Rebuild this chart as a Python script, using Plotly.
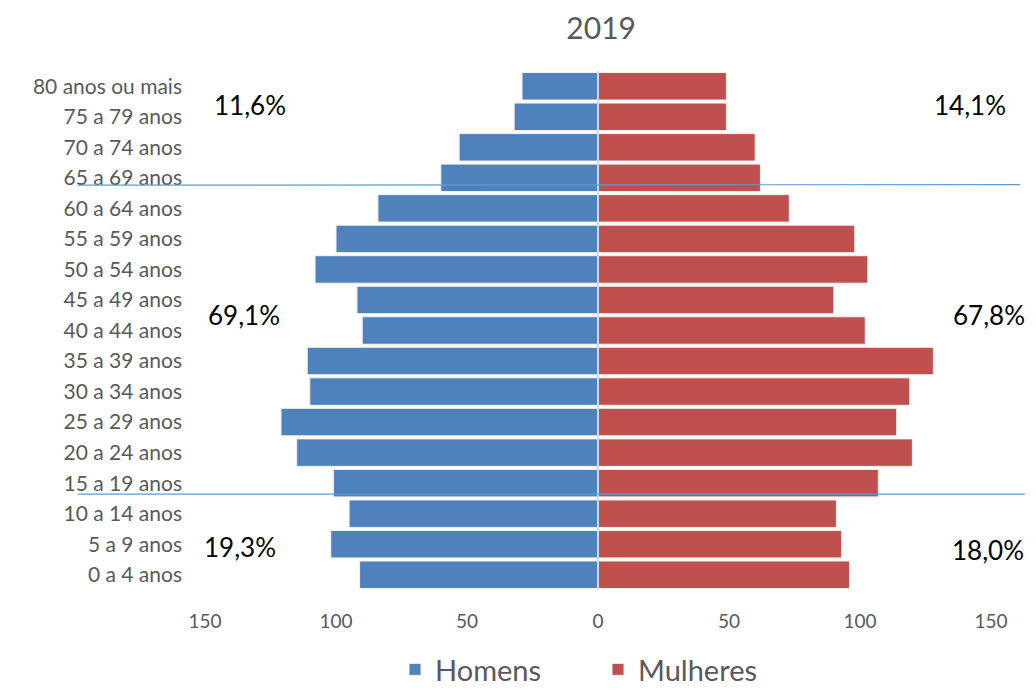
import plotly.graph_objects as go

# age groups, bottom to top
faixas = [
    "0 a 4 anos", "5 a 9 anos", "10 a 14 anos", "15 a 19 anos",
    "20 a 24 anos", "25 a 29 anos", "30 a 34 anos", "35 a 39 anos",
    "40 a 44 anos", "45 a 49 anos", "50 a 54 anos", "55 a 59 anos",
    "60 a 64 anos", "65 a 69 anos", "70 a 74 anos", "75 a 79 anos",
    "80 anos ou mais",
]
homens = [91, 102, 95, 101, 115, 121, 110, 111, 90, 92, 108, 100, 84, 60, 53, 32, 29]
mulheres = [96, 93, 91, 107, 120, 114, 119, 128, 102, 90, 103, 98, 73, 62, 60, 49, 49]

tick_vals = [-150, -100, -50, 0, 50, 100, 150]
tick_text = ["150", "100", "50", "0", "50", "100", "150"]

# share labels: (text, x paper, y category position)
pct_labels = [
    ("11,6%", 0.057, 15.4), ("14,1%", 0.973, 15.4),
    ("69,1%", 0.050, 8.5), ("67,8%", 0.998, 8.5),
    ("19,3%", 0.045, 0.9), ("18,0%", 0.996, 0.8),
]

font = "Lato, Calibri, sans-serif"
grey = "#595959"

fig = go.Figure()
fig.add_trace(go.Bar(
    y=faixas, x=[-v for v in homens], orientation="h", name="Homens",
    marker=dict(color="#4F81BD", line=dict(color="#F2F2F2", width=1)),
))
fig.add_trace(go.Bar(
    y=faixas, x=mulheres, orientation="h", name="Mulheres",
    marker=dict(color="#C0504D", line=dict(color="#F2F2F2", width=1)),
))

# zero axis line
fig.add_shape(type="line", xref="x", yref="paper", x0=0, x1=0, y0=0, y1=1,
              line=dict(color="#D9D9D9", width=2), layer="above")

# hand drawn separators
fig.add_shape(type="line", xref="paper", yref="y", x0=-0.162, x1=1.037, y0=12.76, y1=12.78,
              line=dict(color="#5B9BD5", width=1.2))
fig.add_shape(type="line", xref="paper", yref="y", x0=-0.162, x1=1.043, y0=2.64, y1=2.64,
              line=dict(color="#5B9BD5", width=1.2))

for txt, px, py in pct_labels:
    fig.add_annotation(text=txt, xref="paper", yref="y", x=px, y=py, xanchor="center",
                       showarrow=False, font=dict(size=26, color="black", family=font))

fig.update_layout(
    width=1028, height=687,
    barmode="relative", bargap=0.1,
    plot_bgcolor="white", paper_bgcolor="white",
    margin=dict(l=197, r=45, t=63, b=105),
    font=dict(family=font, color=grey),
    title=dict(text="2019", x=0.577, xanchor="center", y=0.97, yanchor="middle",
               font=dict(size=30, color=grey)),
    xaxis=dict(range=[-150, 150], tickvals=tick_vals, ticktext=tick_text,
               showgrid=False, zeroline=False, showline=False, automargin=False,
               tickfont=dict(size=19, color=grey), ticklabelstandoff=18),
    yaxis=dict(categoryorder="array", categoryarray=faixas, range=[-0.5, 16.5],
               showgrid=False, showline=False, ticks="", automargin=False,
               tickfont=dict(size=21, color=grey), ticklabelstandoff=22),
    legend=dict(orientation="h", x=0.5, xanchor="center", yref="container",
                y=-0.014, yanchor="bottom", entrywidth=158,
                font=dict(size=29, color=grey), traceorder="normal"),
    showlegend=True,
)

fig.write_html("out.html")
